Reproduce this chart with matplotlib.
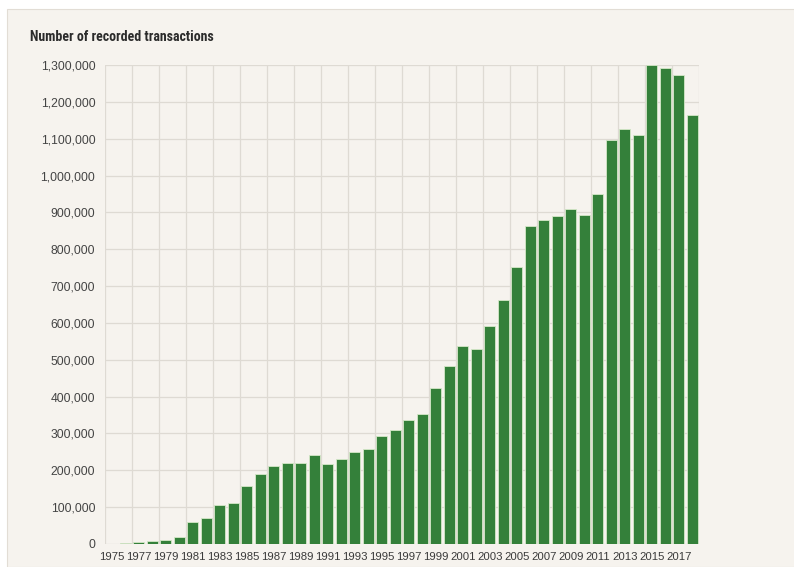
import matplotlib.pyplot as plt
from matplotlib.patches import Rectangle
from matplotlib.ticker import FuncFormatter, MultipleLocator
import numpy as np

# Recorded transactions per year
years = list(range(1975, 2019))
transactions = [
    500, 1500, 4500, 7500, 11000, 19000, 59000, 70500, 104500, 112600,
    157000, 191000, 211000, 221000, 221000, 242000, 218000, 230000, 250500, 257000,
    294000, 309000, 337000, 352000, 424000, 482000, 538000, 529000, 592000, 661000,
    752000, 863000, 880000, 891000, 908000, 894000, 950000, 1097000, 1127000, 1110000,
    1299000, 1293000, 1273000, 1163000,
]
tick_labels = [str(y) for y in years[::2]]

bg = '#f6f3ee'
green = '#34803a'
grid = '#dedad3'

plt.rcParams['font.family'] = ['Liberation Sans', 'DejaVu Sans']

fig = plt.figure(figsize=(7.94, 5.67), dpi=100)
fig.patch.set_facecolor('white')
# beige panel behind the chart
fig.patches.append(Rectangle((7 / 794, 0), 1, 1 - 9 / 567, transform=fig.transFigure,
                             facecolor=bg, edgecolor='#e2ddd5', linewidth=0.8, zorder=-10))

ax = fig.add_axes([105 / 794, 1 - 544 / 567, (699 - 105) / 794, (544 - 65) / 567])
ax.set_facecolor(bg)

x = np.arange(len(years))
ax.bar(x, transactions, width=0.82, color=green, edgecolor='#d5e8c8', linewidth=0.6, zorder=3)

ax.set_xlim(-0.5, len(years) - 0.5)
ax.set_ylim(0, 1300000)

# grid: horizontal every 100k, vertical at band edges every 2 years
ax.yaxis.set_major_locator(MultipleLocator(100000))
ax.yaxis.set_major_formatter(FuncFormatter(lambda v, p: f"{int(v):,}"))
for gx in np.arange(-0.5, len(years), 2):
    ax.axvline(gx, color=grid, linewidth=0.9, zorder=1)
for gy in range(0, 1300001, 100000):
    ax.axhline(gy, color=grid, linewidth=0.9, zorder=1)

ax.set_xticks(x[::2])
ax.set_xticklabels(tick_labels)
ax.tick_params(axis='x', length=0, pad=5.5, labelsize=8.2, labelcolor='#3a3a3a')
ax.tick_params(axis='y', length=0, pad=7, labelsize=8.7, labelcolor='#444444')
for s in ax.spines.values():
    s.set_visible(False)

fig.text(30 / 794, 1 - 37 / 567, "Number of recorded transactions",
         family=['Roboto Condensed', 'DejaVu Sans'], weight='bold',
         fontsize=10, color='#2b2b2b', va='center', ha='left')

fig.savefig('out.png', dpi=100, facecolor=fig.get_facecolor())
